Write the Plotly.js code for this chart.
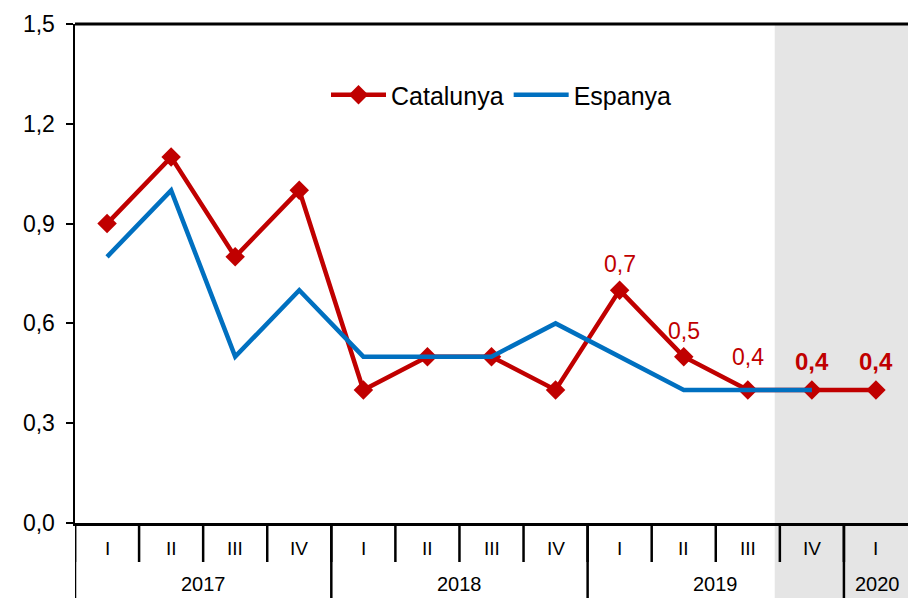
<!DOCTYPE html>
<html>
<head>
<meta charset="utf-8">
<script src="https://cdn.plot.ly/plotly-3.0.1.min.js"></script>
<style>html,body{margin:0;padding:0;background:#fff;}#chart{width:908px;height:598px;}</style>
</head>
<body>
<div id="chart"></div>
<script>
var quarters = ['I','II','III','IV','I','II','III','IV','I','II','III','IV','I'];
var years = ['2017','2018','2019','2020'];
var yearSpans = [[0,3],[4,7],[8,11],[12,12]];
var catalunya = [0.9,1.1,0.8,1.0,0.4,0.5,0.5,0.4,0.7,0.5,0.4,0.4,0.4];
var espanya = [0.8,1.0,0.5,0.7,0.5,0.5,0.5,0.6,0.5,0.4,0.4,0.4,null];
var labelIdx = [8,9,10,11,12];
var labelBold = [false,false,false,true,true];

var xs = quarters.map(function(_,i){return i;});
var RED = '#C00000', BLUE = '#0070C0';
var FONT = 'Liberation Sans, Arial, sans-serif';

var traces = [
  {x: xs, y: catalunya, name: 'Catalunya', type: 'scatter', mode: 'lines+markers',
   line: {color: RED, width: 4.5}, marker: {symbol: 'diamond', size: 15, color: RED}, hoverinfo: 'skip'},
  {x: xs, y: espanya, name: 'Espanya', type: 'scatter', mode: 'lines',
   line: {color: BLUE, width: 4.5}, hoverinfo: 'skip', connectgaps: false}
];

var plotH = 598 - 24 - 75;
var shapes = [];
var annotations = [];
shapes.push({type:'rect', xref:'x', yref:'paper', x0:10.42, x1:12.5, y0:-75/plotH, y1:1,
  fillcolor:'#E5E5E5', line:{width:0}, layer:'below'});
for (var k = 0; k <= 12; k++) {
  shapes.push({type:'line', xref:'x', yref:'paper', x0:k-0.5, x1:k-0.5, y0:0, y1:-39/plotH,
    line:{color:'#000', width:2.5}});
}
yearSpans.forEach(function(s){
  shapes.push({type:'line', xref:'x', yref:'paper', x0:s[0]-0.5, x1:s[0]-0.5, y0:0, y1:-75/plotH,
    line:{color:'#000', width:2.5}});
});
shapes.push({type:'line', xref:'paper', yref:'paper', x0:0, x1:1, y0:1, y1:1, line:{color:'#000', width:3}});

quarters.forEach(function(q,i){
  annotations.push({x:i, y:-25/plotH, xref:'x', yref:'paper', text:q, showarrow:false,
    yanchor:'middle', font:{family:FONT, size:19, color:'#000'}});
});
years.forEach(function(yv,j){
  var s = yearSpans[j];
  annotations.push({x:(s[0]+s[1])/2 + (j==3?0.03:0), y:-61/plotH, xref:'x', yref:'paper', text:yv, showarrow:false,
    yanchor:'middle', font:{family:FONT, size:20, color:'#000'}});
});
labelIdx.forEach(function(i,j){
  var v = catalunya[i];
  var txt = v.toFixed(1).replace('.', ',');
  annotations.push({x:i, y:v, xref:'x', yref:'y', text: labelBold[j] ? '<b>'+txt+'</b>' : txt,
    showarrow:false, yanchor:'middle', yshift: labelBold[j] ? 28 : (i==10 ? 33 : 26),
    font:{family:FONT, size: labelBold[j] ? 24 : 23, color:RED}});
});

var layout = {
  width: 908, height: 598,
  margin: {l:75, r:0, t:24, b:75},
  paper_bgcolor: '#fff', plot_bgcolor: 'rgba(0,0,0,0)',
  separators: ',.',
  showlegend: true,
  legend: {orientation:'h', x:(326-75)/833, y:1-(95-24)/plotH, xanchor:'left', yanchor:'middle',
    font:{family:FONT, size:25, color:'#000'}, bgcolor:'rgba(0,0,0,0)', itemwidth:55, traceorder:'normal'},
  xaxis: {range:[-0.5,12.5], showgrid:false, zeroline:false, showticklabels:false, ticks:'',
    showline:true, linecolor:'#000', linewidth:2.5, fixedrange:true},
  yaxis: {range:[0,1.5], tickvals:[0,0.3,0.6,0.9,1.2,1.5], tickformat:'.1f', showgrid:false, zeroline:false,
    showline:true, linecolor:'#000', linewidth:2.5, ticks:'outside', ticklen:7, tickwidth:2, tickcolor:'#000',
    ticklabelstandoff:6,
    tickfont:{family:FONT, size:23, color:'#000'}, fixedrange:true},
  shapes: shapes,
  annotations: annotations,
  font: {family: FONT}
};

Plotly.newPlot('chart', traces, layout, {displayModeBar:false, staticPlot:true});
</script>
</body>
</html>
